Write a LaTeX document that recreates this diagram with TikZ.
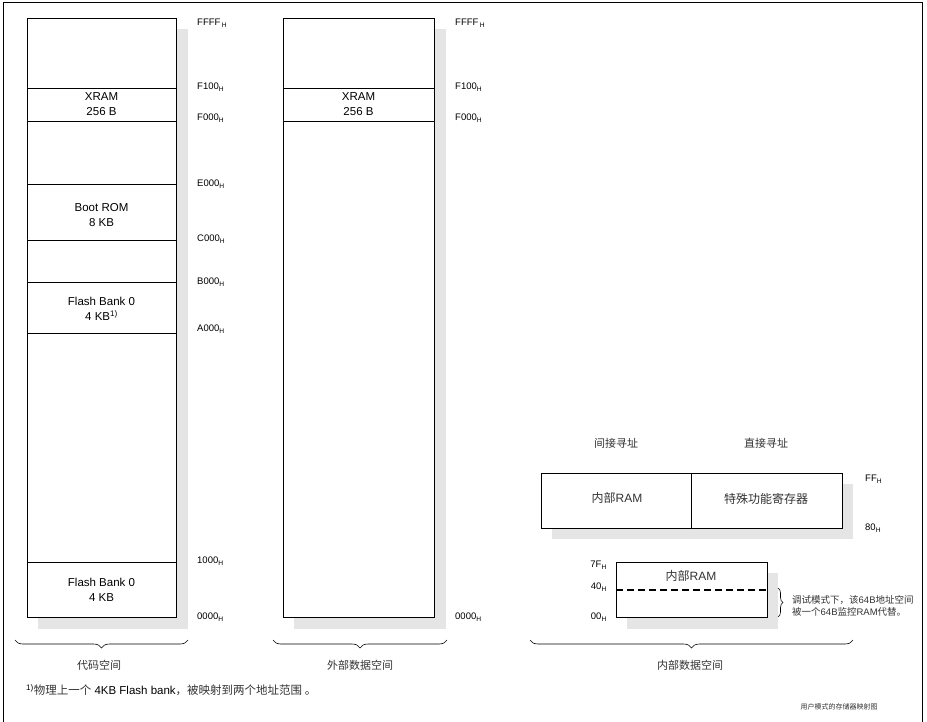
\documentclass[tikz,border=0pt]{standalone}
\usepackage{fontspec}
\setmainfont{Liberation Sans}
\newfontfamily\cjk{Noto Sans CJK SC}
\usetikzlibrary{decorations.pathreplacing}

\newcommand{\hx}[1]{#1\textsubscript{H}}

\begin{document}
\begin{tikzpicture}[x=1pt, y=-1pt,
  mapbox/.style = {draw, fill=white, line width=0.8pt},
  shadowbox/.style = {fill=black!10},
  addr/.style = {inner sep=0pt, font=\fontsize{9.5}{11}\selectfont},
  celltext/.style = {align=center, inner sep=0pt, font=\fontsize{11.5}{14.5}\selectfont},
  zhtext/.style = {inner sep=0pt, text=black!80, font=\cjk\fontsize{11}{13}\selectfont},
  zhcell/.style = {zhtext, font=\cjk\fontsize{12}{14}\selectfont},
  membrace/.style = {decorate, decoration={brace, amplitude=8pt}, line width=0.6pt}]
  \useasboundingbox (0,0) rectangle (927,722);
  \draw[line width=0.8pt] (3,722) -- (3,2.5) -- (922,2.5) -- (922,722);

  % code space
  \fill[shadowbox] (38,29) rectangle (188,629);
  \draw[mapbox] (27,18) rectangle (176,617);
  \foreach \y in {88,121,184,240,282,333,562}
    \draw[mapbox] (27,\y) -- (176,\y);
  \node[celltext] (codexram) at (101.5,104) {XRAM\\256 B};
  \node[celltext] (bootrom) at (101.5,215) {Boot ROM\\8 KB};
  \node[celltext] (flashhi) at (101.5,309) {Flash Bank 0\\4 KB\textsuperscript{1)}};
  \node[celltext] (flashlo) at (101.5,590) {Flash Bank 0\\4 KB};
  \node[addr, anchor=west] (code-FFFF) at (197,23) {\hx{FFFF\,}};
  \foreach \a/\y in {F100/87, F000/118, E000/184, C000/239, B000/282, A000/329, 1000/561, 0000/617}
    \node[addr, anchor=west] (code-\a) at (197,\y) {\hx{\a}};

  % external data space
  \fill[shadowbox] (294,29) rectangle (446,629);
  \draw[mapbox] (283,18) rectangle (434,617);
  \foreach \y in {88,121}
    \draw[mapbox] (283,\y) -- (434,\y);
  \node[celltext] (extxram) at (358.5,104) {XRAM\\256 B};
  \node[addr, anchor=west] (ext-FFFF) at (455,23) {\hx{FFFF\,}};
  \foreach \a/\y in {F100/87, F000/118, 0000/617}
    \node[addr, anchor=west] (ext-\a) at (455,\y) {\hx{\a}};

  % internal data space, upper 128 byte
  \fill[shadowbox] (552,484) rectangle (853,539);
  \draw[mapbox] (541,473) rectangle (842,528);
  \draw[mapbox] (691,473) -- (691,528);
  \node[zhtext] (indirect) at (616,443) {间接寻址};
  \node[zhtext] (direct) at (766,443) {直接寻址};
  \node[zhcell] (iramhi) at (617,498) {内部\rmfamily RAM};
  \node[zhcell] (sfr) at (766,499) {特殊功能寄存器};
  \node[addr, anchor=west] (int-FF) at (865,479) {\hx{FF}};
  \node[addr, anchor=west] (int-80) at (865,528) {\hx{80}};

  % internal data space, lower 128 byte
  \fill[shadowbox] (627,573) rectangle (778,629);
  \draw[mapbox] (616,562) rectangle (767,617);
  \draw[line width=1.5pt, dash pattern=on 7pt off 4pt] (616,590) -- (767,590);
  \node[zhcell] (iramlo) at (691,576) {内部\rmfamily RAM};
  \foreach \a/\y in {7F/565, 40/587, 00/617}
    \node[addr, anchor=east] (int-\a) at (607,\y) {\hx{\a}};
  \draw[decorate, decoration={brace, amplitude=5pt}, line width=0.6pt] (778,588) -- (778,617);
  \node[zhtext, anchor=west, align=left, font=\cjk\fontsize{9.5}{12}\selectfont] (debugnote) at (792,606)
    {调试模式下，该{\rmfamily 64B}地址空间\\被一个{\rmfamily 64B}监控{\rmfamily RAM}代替。};

  % braces
  \draw[membrace] (188,640) -- (15,640);
  \draw[membrace] (447,640) -- (273,640);
  \draw[membrace] (853,640) -- (530,640);
  \node[zhtext] (codespace) at (99,665) {代码空间};
  \node[zhtext] (extspace) at (360,665) {外部数据空间};
  \node[zhtext] (intspace) at (690,665) {内部数据空间};

  % footnote and caption
  \node[anchor=west, inner sep=0pt, font=\fontsize{11.5}{13}\selectfont] (footnote) at (26,690)
    {\textsuperscript{1)}{\color{black!80}\cjk 物理上一个} 4KB Flash bank{\color{black!80}\cjk ，被映射到两个地址范围 。}};
  \node[zhtext, font=\cjk\fontsize{7}{8}\selectfont] (mapcaption) at (839,707) {用户模式的存储器映射图};
\end{tikzpicture}
\end{document}
